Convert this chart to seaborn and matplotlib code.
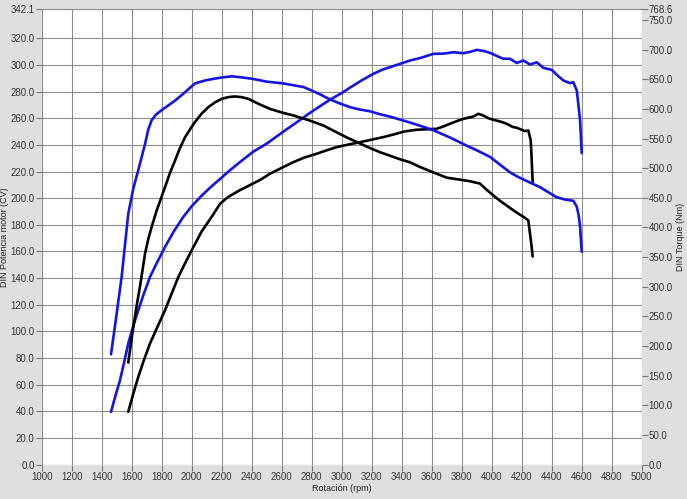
import matplotlib
matplotlib.use("Agg")
import matplotlib.pyplot as plt
import pandas as pd
import seaborn as sns

# Blue run: power (CV, left axis) and torque (Nm, right axis)
blue_power_rpm = [1462, 1490, 1522, 1550, 1577, 1610, 1644, 1680, 1722, 1770, 1822, 1880,
                  1944, 2000, 2067, 2133, 2200, 2244, 2320, 2411, 2500, 2611, 2700, 2800,
                  2922, 3000, 3055, 3133, 3211, 3270, 3322, 3389, 3455, 3530, 3611, 3680,
                  3744, 3811, 3860, 3900, 3950, 3989, 4040, 4078, 4122, 4167, 4211, 4255,
                  4300, 4344, 4400, 4440, 4478, 4522, 4544, 4567, 4580, 4589, 4600]
blue_power_cv = [39.6, 51, 63.4, 77, 90.9, 104, 115.9, 128, 140.9, 152, 163.4, 175,
                 186, 194, 202, 209, 215.5, 220, 227, 235, 241, 250, 257, 265,
                 274, 279, 283, 288.5, 293.4, 296.5, 298.4, 300.9, 303.4, 305.5, 308.4, 308.6,
                 309.6, 308.9, 310, 311.4, 310.5, 309.1, 306.5, 304.7, 304.7, 301.6, 303.4, 300.4,
                 302.1, 297.9, 296.4, 292, 288.4, 286.4, 287.1, 280.9, 268, 258.4, 233.9]

blue_torque_rpm = [1462, 1500, 1533, 1577, 1610, 1644, 1689, 1710, 1733, 1760, 1800, 1850,
                   1889, 1955, 1990, 2022, 2089, 2150, 2200, 2267, 2340, 2400, 2500, 2611,
                   2744, 2800, 2860, 2922, 2990, 3055, 3120, 3189, 3255, 3322, 3389, 3455,
                   3530, 3611, 3720, 3833, 3910, 3989, 4060, 4122, 4170, 4211, 4270, 4322,
                   4380, 4433, 4490, 4544, 4567, 4580, 4589, 4600]
blue_torque_nm = [186, 255, 317, 423, 465, 497, 541, 565, 581, 590, 598, 607,
                  614, 628, 636, 643, 648, 651, 653, 655, 653, 651, 646, 643,
                  637, 631, 624, 616, 609, 603, 599, 596, 591, 587, 582, 577,
                  571, 564, 552, 538, 529, 519, 505, 493, 486, 481, 474, 468,
                  459, 451, 447, 445, 435, 420, 401, 359]

# Black run
black_power_rpm = [1577, 1610, 1644, 1680, 1722, 1770, 1822, 1865, 1911, 1955, 2000, 2066,
                   2133, 2190, 2244, 2320, 2400, 2460, 2522, 2600, 2678, 2750, 2833, 2900,
                   2967, 3045, 3122, 3200, 3278, 3350, 3420, 3500, 3570, 3633, 3680, 3722,
                   3770, 3811, 3878, 3911, 3944, 3980, 4011, 4060, 4100, 4140, 4167, 4222,
                   4244, 4260, 4266, 4273]
black_power_cv = [39.6, 53, 65.9, 78, 90.9, 103, 115.9, 128, 140.9, 151, 160.9, 175,
                  186, 196, 201, 206, 210.5, 214, 218.4, 222.8, 227.1, 230.5, 233.4, 236,
                  238.4, 240.3, 242.1, 244, 245.9, 248, 250.2, 251.4, 251.8, 252.1, 254, 255.9,
                  258, 259.6, 261.4, 263.4, 262.1, 260, 258.9, 257.5, 255.9, 253.5, 252.9, 250.4,
                  250.9, 243.4, 230, 212.1]

black_torque_rpm = [1577, 1595, 1611, 1633, 1655, 1689, 1710, 1733, 1767, 1822, 1855, 1889,
                    1920, 1955, 1990, 2022, 2066, 2111, 2155, 2200, 2245, 2289, 2330, 2378,
                    2450, 2522, 2600, 2678, 2780, 2878, 2955, 3033, 3110, 3189, 3255, 3322,
                    3389, 3455, 3522, 3610, 3700, 3780, 3855, 3922, 3960, 4011, 4055, 4100,
                    4155, 4211, 4244, 4255, 4265, 4273]
black_torque_nm = [172, 205, 232, 268, 300, 356, 380, 401, 429, 468, 492, 513,
                   533, 552, 566, 578, 592, 603, 611, 617, 620, 621, 620, 617,
                   608, 600, 594, 589, 581, 572, 562, 552, 543, 534, 527, 521,
                   515, 510, 502, 493, 484, 481, 478, 474, 465, 454, 445, 437,
                   427, 418, 412, 390, 370, 351]

x_ticks = list(range(1000, 5001, 200))
left_ticks = [v for v in range(0, 321, 20)] + [342.1]
right_ticks = [v for v in range(0, 751, 50)] + [768.6]

sns.set_theme(style="white")
plt.rcParams["font.family"] = ["Liberation Sans", "DejaVu Sans"]

fig = plt.figure(figsize=(6.87, 4.99), dpi=100, facecolor="#dfdfdf")
ax = fig.add_axes([0.0607, 0.069, 0.8734, 0.913])
ax.set_facecolor("white")
ax2 = ax.twinx()

blue = "#1414e6"
curves = [
    (ax, blue_power_rpm, blue_power_cv, blue),
    (ax, black_power_rpm, black_power_cv, "black"),
    (ax2, blue_torque_rpm, blue_torque_nm, blue),
    (ax2, black_torque_rpm, black_torque_nm, "black"),
]
for target, rpm, vals, col in curves:
    df = pd.DataFrame({"rpm": rpm, "val": vals})
    sns.lineplot(data=df, x="rpm", y="val", ax=target, color=col, lw=1.9, sort=False)

ax.set_xlim(1000, 5000)
ax.set_ylim(0, 342.1)
ax2.set_ylim(0, 768.6)

ax.set_xticks(x_ticks)
ax.set_xticklabels([str(v) for v in x_ticks])
ax.set_yticks(left_ticks)
ax.set_yticklabels([f"{v:.1f}" for v in left_ticks])
ax2.set_yticks(right_ticks)
ax2.set_yticklabels([f"{v:.1f}" for v in right_ticks])

ax.grid(True, color="#8c8c8c", lw=0.8)
ax.set_axisbelow(True)
ax2.grid(False)

for a in (ax, ax2):
    for s in a.spines.values():
        s.set_visible(False)
    a.tick_params(axis="both", which="major", labelsize=7, length=4, width=0.8,
                  color="#777777", labelcolor="#333333", pad=1, direction="out")
ax.spines["top"].set_visible(True)
ax.spines["top"].set_color("#8c8c8c")
ax.spines["top"].set_linewidth(0.8)
ax.tick_params(axis="x", bottom=True)
ax.tick_params(axis="y", left=True)
ax2.tick_params(axis="y", right=True)

ax.set_xlabel("Rotación (rpm)", fontsize=6.5, color="#222222", labelpad=2)
ax.set_ylabel("DIN Potencia motor (CV)", fontsize=6.5, color="#222222")
ax2.set_ylabel("DIN Torque (Nm)", fontsize=6.5, color="#222222", rotation=90)
ax.yaxis.set_label_coords(-0.054, 0.5)
ax2.yaxis.set_label_coords(1.057, 0.5)

fig.savefig("out.png", dpi=100, facecolor=fig.get_facecolor())
